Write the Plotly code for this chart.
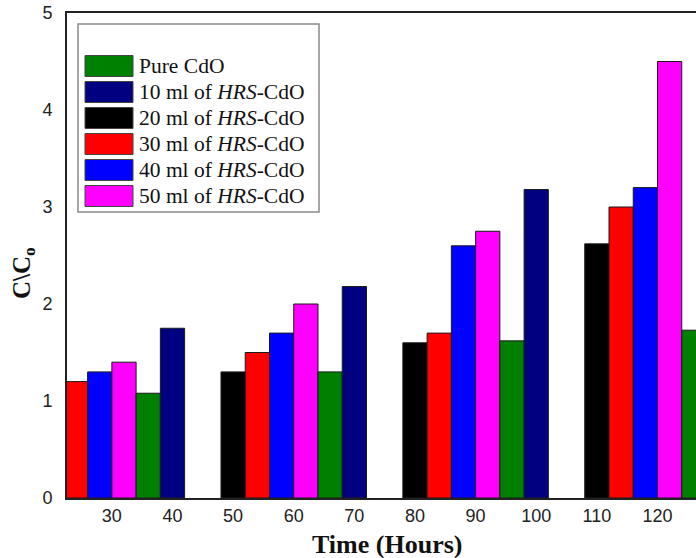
import plotly.graph_objects as go

# ---- data ----
times = [30, 60, 90, 120]
tick_hours = [30, 40, 50, 60, 70, 80, 90, 100, 110, 120]

pure_cdo = [1.08, 1.30, 1.62, 1.73]
hrs_10 = [1.75, 2.18, 3.18, 3.60]
hrs_20 = [1.00, 1.30, 1.60, 2.62]
hrs_30 = [1.20, 1.50, 1.70, 3.00]
hrs_40 = [1.30, 1.70, 2.60, 3.20]
hrs_50 = [1.40, 2.00, 2.75, 4.50]

names = ["Pure CdO", "10 ml of <i>HRS</i>-CdO", "20 ml of <i>HRS</i>-CdO",
         "30 ml of <i>HRS</i>-CdO", "40 ml of <i>HRS</i>-CdO", "50 ml of <i>HRS</i>-CdO"]
values = [pure_cdo, hrs_10, hrs_20, hrs_30, hrs_40, hrs_50]
colors = ["#008000", "#000080", "#000000", "#ff0000", "#0000ff", "#ff00ff"]
# order in which the bars sit inside each group (left to right)
plot_order = [2, 3, 4, 5, 0, 1]

W, H = 696, 558
L, R, T, B = 67, 0, 13, 60
PW, PH = W - L - R, H - T - B

def px_x(p):
    return (p - L) / PW

def px_y(p):
    return (H - B - p) / PH

fig = go.Figure()
for i in plot_order:
    fig.add_trace(go.Bar(
        x=times, y=values[i], name=names[i],
        marker=dict(color=colors[i], line=dict(color="#1a1a1a", width=1)),
        showlegend=False,
    ))

serif = "Liberation Serif, Times New Roman, serif"
sans = "Liberation Sans, Arial, sans-serif"

shapes = [dict(type="rect", xref="paper", yref="paper",
               x0=px_x(78), x1=px_x(319), y0=px_y(212), y1=px_y(24),
               line=dict(color="#8a8a8a", width=1.5), fillcolor="white", layer="above")]
annotations = []
for k in range(len(names)):
    cy = 66 + 26 * k
    shapes.append(dict(type="rect", xref="paper", yref="paper",
                       x0=px_x(85), x1=px_x(133), y0=px_y(cy + 10.5), y1=px_y(cy - 10.5),
                       line=dict(color="#444444", width=1), fillcolor=colors[k], layer="above"))
    annotations.append(dict(xref="paper", yref="paper", x=px_x(137), y=px_y(cy),
                            xanchor="left", yanchor="middle", showarrow=False,
                            text=names[k], font=dict(family=serif, size=21.5, color="#111")))

annotations.append(dict(xref="paper", yref="paper", x=px_x(387), y=px_y(544),
                        xanchor="center", yanchor="middle", showarrow=False,
                        text="<b>Time (Hours)</b>", font=dict(family=serif, size=26, color="#111")))
annotations.append(dict(xref="paper", yref="paper", x=px_x(23), y=px_y(273),
                        xanchor="center", yanchor="middle", showarrow=False, textangle=-90,
                        text="<b>C\\C<sub>o</sub></b>", font=dict(family=serif, size=25, color="#111")))

fig.update_layout(
    width=W, height=H,
    margin=dict(l=L, r=R, t=T, b=B),
    paper_bgcolor="white", plot_bgcolor="white",
    barmode="group", bargap=0.2, bargroupgap=0,
    shapes=shapes, annotations=annotations,
    xaxis=dict(range=[22.6, 126.35], tickvals=tick_hours, ticks="",
               showgrid=False, zeroline=False, showline=True, mirror=True,
               linecolor="#222", linewidth=2, ticklabelstandoff=0,
               tickfont=dict(family=sans, size=18, color="#222")),
    yaxis=dict(range=[0, 5], dtick=1, ticks="", showgrid=False, zeroline=False,
               showline=True, linecolor="#222", linewidth=2, ticklabelstandoff=9,
               tickfont=dict(family=sans, size=18, color="#222")),
)

fig.write_html("out.html")
